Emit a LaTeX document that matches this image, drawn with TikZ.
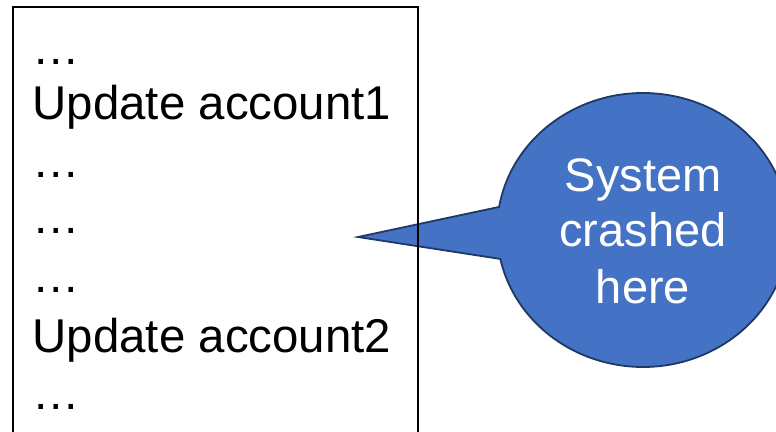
\documentclass[tikz,border=0pt]{standalone}
\usepackage{fontspec}
\setmainfont{Liberation Sans}
\usetikzlibrary{calc}
\definecolor{calloutfill}{HTML}{4472C4}
\definecolor{calloutedge}{HTML}{203864}
\tikzset{
  line/.style={anchor=base west, inner sep=0pt, font=\fontsize{47.4}{56}\selectfont},
  ctext/.style={anchor=base, inner sep=0pt, text=white, font=\fontsize{47}{56}\selectfont},
  callout/.style={fill=calloutfill, draw=calloutedge, line width=1.8pt, line join=miter},
  logbox/.style={draw=black, line width=1.6pt}
}
\begin{document}
\begin{tikzpicture}[x=1pt,y=1pt]
\useasboundingbox (0,0) rectangle (776,431);
% callout
\coordinate (tip) at (358,194);
\coordinate (cc) at (643,201);
\draw[callout] (tip) -- ($(cc)+(170.3:146 and 137)$)
  arc[start angle=170.3, end angle=-167.8, x radius=146, y radius=137] -- cycle;
\node[ctext] (c1) at (643,239) {System};
\node[ctext] (c2) at (643,184) {crashed};
\node[ctext] (c3) at (643,127) {here};
% log box
\draw[logbox] (13,-20) rectangle (418,424);
\node[line] (l1) at (32.5,366) {…};
\node[line] (l2) at (32.5,311) {Update account1};
\node[line] (l3) at (32.5,253) {…};
\node[line] (l4) at (32.5,197) {…};
\node[line] (l5) at (32.5,138) {…};
\node[line] (l6) at (32.5,78) {Update account2};
\node[line] (l7) at (32.5,22) {…};
\end{tikzpicture}
\end{document}
